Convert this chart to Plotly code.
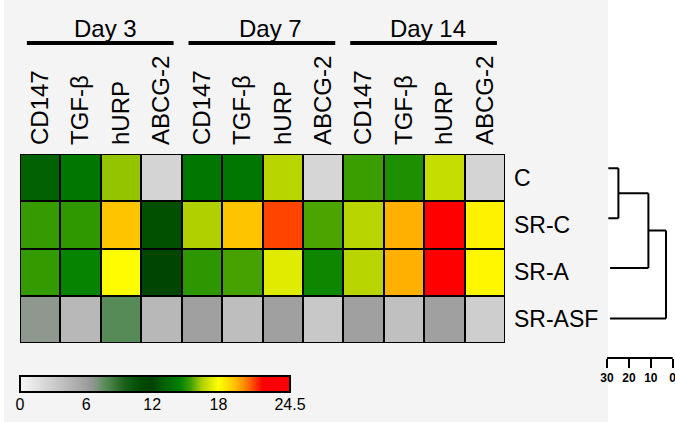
import plotly.graph_objects as go

W, H = 675, 422

# ---------------- data ----------------
genes = ["CD147", "TGF-β", "hURP", "ABCG-2"]
days = ["Day 3", "Day 7", "Day 14"]
groups = ["C", "SR-C", "SR-A", "SR-ASF"]
col_labels = genes * len(days)

values_C = [13.1, 14.1, 16.25, 2.45, 14.1, 14.1, 16.65, 2.3, 15.4, 14.97, 16.9, 2.45]
values_SRC = [15.33, 15.23, 19.4, 12.5, 16.5, 19.4, 21.2, 15.6, 16.65, 19.75, 22.6, 18.3]
values_SRA = [15.3, 14.6, 18.1, 12.2, 15.2, 15.55, 17.4, 14.7, 16.65, 19.75, 22.3, 18.2]
values_SRASF = [6.6, 4.36, 7.8, 4.36, 6.0, 3.95, 6.0, 3.27, 6.0, 3.82, 6.0, 2.86]
values = [values_C, values_SRC, values_SRA, values_SRASF]

zmin, zmax = 0, 24.5
cb_ticks = [0, 6, 12, 18, 24.5]
cb_ticktext = ["0", "6", "12", "18", "24.5"]
color_stops = [(0, "#f8f8f8"), (6, "#a0a0a0"), (6.6, "#8e988e"), (7.8, "#568a56"),
               (9.5, "#1a601a"), (11, "#004a00"), (12, "#004000"), (13, "#006000"),
               (14.5, "#008000"), (15.5, "#40a000"), (16.5, "#b0d000"), (18, "#ffff00"),
               (19.5, "#ffc000"), (20.5, "#ff8000"), (22, "#ff0000"), (24.5, "#ff0000")]

# dendrogram (distance units, leaf row positions)
leaf_y = [-0.2, 0.86, 1.91, 2.98]          # C, SR-C, SR-A, SR-ASF
leaf_start = [29.4, 29.4, 28.6, 28.6]
merge_heights = [24.8, 11.1, 3.06]
scale_ticks = [30, 20, 10, 0]

# ---------------- figure ----------------
FONT = "Liberation Sans, Arial, sans-serif"
colorscale = [[v / zmax, c] for v, c in color_stops]

fig = go.Figure()

fig.add_trace(go.Heatmap(
    z=values, x=list(range(len(col_labels))), y=list(range(len(groups))),
    zmin=zmin, zmax=zmax, colorscale=colorscale, xgap=2, ygap=2,
    hoverinfo="skip",
    colorbar=dict(orientation="h", x=155 / W, xanchor="center", y=1 - 376 / H, yanchor="top",
                  len=270, lenmode="pixels", thickness=16, thicknessmode="pixels",
                  outlinewidth=2, outlinecolor="black", tickvals=cb_ticks,
                  ticks="", showticklabels=False, xpad=0, ypad=0),
))

# dendrogram path built from merges
dx, dy = [], []
def seg(x0, y0, x1, y1):
    dx.extend([x0, x1, None]); dy.extend([y0, y1, None])

h1, h2, h3 = merge_heights
seg(leaf_start[0], leaf_y[0], h1, leaf_y[0])
seg(leaf_start[1], leaf_y[1], h1, leaf_y[1])
seg(h1, leaf_y[0], h1, leaf_y[1])
n1 = (leaf_y[0] + leaf_y[1]) / 2
seg(h1, n1, h2, n1)
seg(leaf_start[2], leaf_y[2], h2, leaf_y[2])
seg(h2, n1, h2, leaf_y[2])
n2 = (n1 + leaf_y[2]) / 2
seg(h2, n2, h3, n2)
seg(leaf_start[3], leaf_y[3], h3, leaf_y[3])
seg(h3, n2, h3, leaf_y[3])

fig.add_trace(go.Scatter(x=dx, y=dy, mode="lines", line=dict(color="black", width=2),
                         xaxis="x2", yaxis="y2", hoverinfo="skip", showlegend=False))

# invisible anchor trace so the colour-value axis (carrying the bar's tick labels) is drawn
fig.add_trace(go.Scatter(x=cb_ticks, y=[0.5] * len(cb_ticks), mode="markers",
                         marker=dict(opacity=0, size=1), xaxis="x3", yaxis="y3",
                         hoverinfo="skip", showlegend=False))

annotations = []
day_x = [1.62, 5.71, 9.59]
for d, xc in zip(days, day_x):
    annotations.append(dict(text=d, x=xc, xref="x", y=1 - 28 / H, yref="paper",
                            showarrow=False, xanchor="center", yanchor="middle",
                            font=dict(size=24, family=FONT, color="black")))

shapes = [
    dict(type="rect", xref="paper", yref="paper", x0=4 / W, x1=608 / W, y0=0, y1=1,
         fillcolor="#f4f4f4", line=dict(width=0), layer="below"),
    dict(type="rect", xref="x", yref="y", x0=-0.5, x1=len(col_labels) - 0.5,
         y0=-0.5, y1=len(groups) - 0.5, fillcolor="black",
         line=dict(color="black", width=2), layer="below"),
]
for g in range(len(days)):
    shapes.append(dict(type="line", xref="x", yref="paper", x0=4 * g - 0.33, x1=4 * g + 3.3,
                       y0=1 - 43 / H, y1=1 - 43 / H, line=dict(color="black", width=4)))

px_per_unit = (672.7 - 607) / 30
fig.update_layout(
    width=W, height=H, template="none",
    margin=dict(l=0, r=0, t=0, b=0, autoexpand=False),
    paper_bgcolor="white", plot_bgcolor="rgba(0,0,0,0)",
    font=dict(family=FONT, color="black"),
    showlegend=False,
    xaxis=dict(domain=[20 / W, 505 / W], range=[-0.5, 11.5], side="top",
               tickvals=list(range(len(col_labels))), ticktext=col_labels, tickangle=-90,
               ticks="", showgrid=False, zeroline=False, showline=False, automargin=False,
               tickfont=dict(size=24, family=FONT, color="black"), ticklabelstandoff=8,
               fixedrange=True),
    yaxis=dict(domain=[1 - 343 / H, 1 - 154 / H], range=[3.5, -0.5], side="right",
               tickvals=list(range(len(groups))), ticktext=groups, ticks="",
               showgrid=False, zeroline=False, showline=False, automargin=False,
               tickfont=dict(size=23, family=FONT, color="black"), ticklabelstandoff=8,
               fixedrange=True),
    xaxis2=dict(domain=[(607 - 0.3 * px_per_unit) / W, (672.7 + 0.3 * px_per_unit) / W],
                range=[30.3, -0.3], anchor="y2",
                showline=False, ticks="outside", ticklen=9,
                tickwidth=2, tickcolor="black", tickvals=scale_ticks,
                ticktext=[str(t) for t in scale_ticks], ticklabeloverflow="allow",
                tickfont=dict(size=12, family=FONT, color="black", weight="bold"),
                showgrid=False, zeroline=False, automargin=False, fixedrange=True),
    yaxis2=dict(domain=[1 - 358 / H, 1 - 150 / H], range=[3.817, -0.585], anchor="x2",
                visible=False, fixedrange=True),
    # value axis carrying the colour-bar tick labels, aligned with the bar
    xaxis3=dict(domain=[20 / W, 290 / W], range=[zmin, zmax], anchor="y3",
                tickvals=cb_ticks, ticktext=cb_ticktext, ticks="", showline=False,
                showgrid=False, zeroline=False, automargin=False, fixedrange=True,
                ticklabeloverflow="allow", ticklabelstandoff=1,
                tickfont=dict(size=16, family=FONT, color="black")),
    yaxis3=dict(domain=[1 - 392 / H, 1 - 376 / H], range=[0, 1], anchor="x3",
                visible=False, fixedrange=True),
    annotations=annotations, shapes=shapes,
)

# scale bar top line spanning the tick range on the dendrogram axis
fig.add_shape(type="line", xref="x2", yref="paper", x0=max(scale_ticks), x1=min(scale_ticks),
              y0=1 - 358 / H, y1=1 - 358 / H, line=dict(color="black", width=2))

fig.write_html("out.html", config={"displayModeBar": False},
               post_script="document.body.style.margin='0';")
